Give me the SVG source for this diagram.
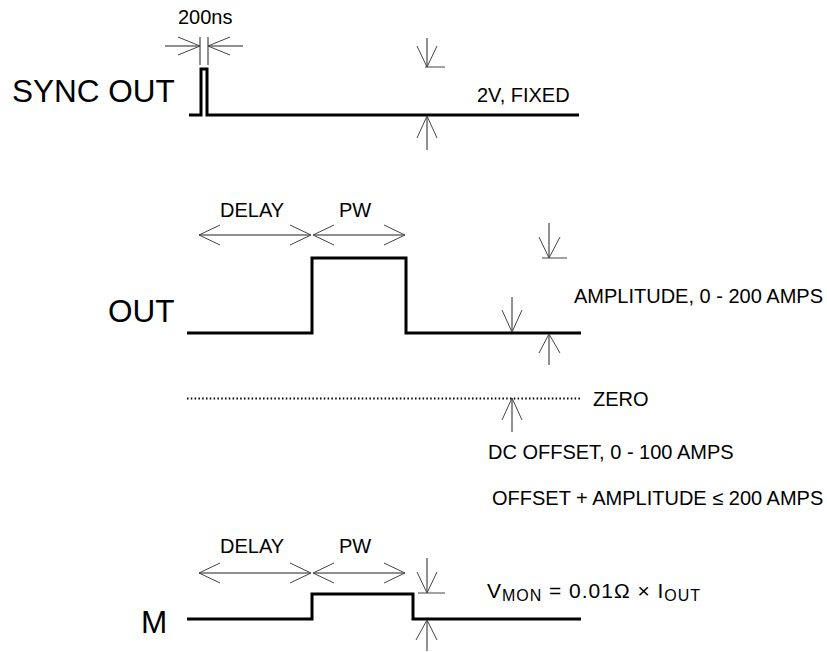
<svg xmlns="http://www.w3.org/2000/svg" width="827" height="652" viewBox="0 0 827 652">
<style>
.wave{fill:none;stroke:#000;stroke-width:3;stroke-linejoin:miter}
.thin{fill:none;stroke:#222;stroke-width:1}
.head{fill:none;stroke:#444;stroke-width:1}
.big{font-family:"Liberation Sans",Arial,sans-serif;font-size:31.5px;fill:#000}
.lbl{font-family:"Liberation Sans",Arial,sans-serif;font-size:20px;fill:#000}
.vmon{font-size:21px}
.sub{font-size:16px}
.dot{fill:none;stroke:#000;stroke-width:2;stroke-dasharray:1.5 2.3}
</style>
<rect width="827" height="652" fill="#fff"/>
<g id="sync-out">
<text class="big" x="12" y="102">SYNC OUT</text>
<polyline class="wave" points="189,115 201,115 201,69 207,69 207,115 579,115"/>
<text class="lbl" x="178" y="24">200ns</text>
<text class="lbl" x="477" y="102">2V, FIXED</text>
</g>
<g id="out">
<text class="big" x="108" y="322">OUT</text>
<polyline class="wave" points="187,333 312,333 312,258 406,258 406,333 581,333"/>
<text class="lbl" x="220" y="217">DELAY</text>
<text class="lbl" x="339" y="217">PW</text>
<text class="lbl" x="574" y="303">AMPLITUDE, 0 - 200 AMPS</text>
</g>
<g id="zero">
<line class="dot" x1="187" y1="398.5" x2="580" y2="398.5"/>
<text class="lbl" x="593" y="406">ZERO</text>
<text class="lbl" x="488" y="459">DC OFFSET, 0 - 100 AMPS</text>
<text class="lbl" x="492" y="505">OFFSET + AMPLITUDE ≤ 200 AMPS</text>
</g>
<g id="m">
<text class="big" x="141" y="633">M</text>
<polyline class="wave" points="187,619 312,619 312,594 413,594 413,619 581,619"/>
<text class="lbl" x="220" y="553">DELAY</text>
<text class="lbl" x="339" y="553">PW</text>
<text class="lbl vmon" x="487" y="598" textLength="213" lengthAdjust="spacing">V<tspan class="sub" dy="3">MON</tspan><tspan dy="-3"> = 0.01Ω × I</tspan><tspan class="sub" dy="3">OUT</tspan></text>
</g>
<g id="connectors">
<line class="thin" x1="200" y1="37" x2="200" y2="65"/>
<line class="thin" x1="208" y1="37" x2="208" y2="65"/>
<line class="thin" x1="165" y1="46" x2="200" y2="46"/>
<polyline class="head" points="178,37 200,46 178,55"/>
<line class="thin" x1="208" y1="46" x2="243" y2="46"/>
<polyline class="head" points="230,37 208,46 230,55"/>
<line class="thin" x1="427" y1="38" x2="427" y2="67"/>
<polyline class="head" points="417,46 427,67 437,46"/>
<line class="head" x1="425" y1="67" x2="445" y2="67"/>
<line class="thin" x1="427" y1="116" x2="427" y2="150"/>
<polyline class="head" points="417,138 427,116 437,138"/>
<line class="thin" x1="199" y1="235" x2="311" y2="235"/>
<polyline class="head" points="220,225 199,235 220,245"/>
<polyline class="head" points="290,225 311,235 290,245"/>
<line class="thin" x1="313" y1="235" x2="405" y2="235"/>
<polyline class="head" points="334,225 313,235 334,245"/>
<polyline class="head" points="384,225 405,235 384,245"/>
<line class="thin" x1="549" y1="223" x2="549" y2="258"/>
<polyline class="head" points="539,237 549,258 560,237"/>
<line class="head" x1="542" y1="258" x2="567" y2="258"/>
<line class="thin" x1="512" y1="297" x2="512" y2="332"/>
<polyline class="head" points="502,310 512,332 522,310"/>
<line class="thin" x1="549" y1="334" x2="549" y2="365"/>
<polyline class="head" points="539,353 549,334 560,353"/>
<line class="thin" x1="512" y1="398" x2="512" y2="432"/>
<polyline class="head" points="502,420 512,398 522,420"/>
<line class="thin" x1="199" y1="573" x2="311" y2="573"/>
<polyline class="head" points="220,563 199,573 220,583"/>
<polyline class="head" points="290,563 311,573 290,583"/>
<line class="thin" x1="313" y1="573" x2="405" y2="573"/>
<polyline class="head" points="334,563 313,573 334,583"/>
<polyline class="head" points="384,563 405,573 384,583"/>
<line class="thin" x1="427" y1="558" x2="427" y2="593"/>
<polyline class="head" points="417,572 427,593 437,572"/>
<line class="head" x1="418" y1="593" x2="445" y2="593"/>
<line class="thin" x1="427" y1="620" x2="427" y2="651"/>
<polyline class="head" points="416,640 427,620 437,640"/>
</g>
</svg>
